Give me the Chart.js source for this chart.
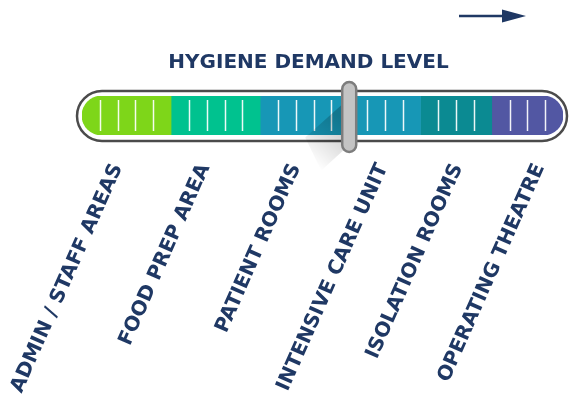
<!DOCTYPE html>
<html lang="en">
<head>
<meta charset="UTF-8">
<title>Hygiene Demand Level</title>
<script src="https://cdn.jsdelivr.net/npm/chart.js"></script>
<style>
  html, body { margin: 0; padding: 0; background: #fff; }
  canvas { display: block; }
</style>
</head>
<body>
<canvas id="gauge" width="576" height="403"></canvas>
<script>
// areas along the scale, from lowest to highest demand
const categories = ['ADMIN / STAFF AREAS', 'FOOD PREP AREA', 'PATIENT ROOMS', 'INTENSIVE CARE UNIT', 'ISOLATION ROOMS', 'OPERATING THEATRE'];
const bandUnits = [5, 5, 5, 4, 4, 4];
const bandColors = ['#7ed619', '#00c28f', '#1797b6', '#1797b6', '#0b8a92', '#5257a3'];
// where each rotated label is anchored on the scale
const labelAt = [2.0, 6.9, 12.0, 16.9, 21.1, 25.7];
const knobValue = 15;

const navy = '#1f3864';
const total = bandUnits.reduce((a, b) => a + b, 0);

const datasets = bandUnits.map((u, i) => ({
    label: categories[i],
    data: [u],
    backgroundColor: bandColors[i],
    borderWidth: 0,
    borderSkipped: false,
    borderRadius: i === 0 ? { topLeft: 20, bottomLeft: 20, topRight: 0, bottomRight: 0 }
        : i === bandUnits.length - 1 ? { topLeft: 0, bottomLeft: 0, topRight: 20, bottomRight: 20 } : 0,
    barPercentage: 1,
    categoryPercentage: 1
}));

const gaugePlugin = {
    id: 'gauge',
    beforeDatasetsDraw(chart) {
        const ctx = chart.ctx;
        const x = chart.scales.x;
        const a = chart.chartArea;
        const l = x.getPixelForValue(0) - 5, r = x.getPixelForValue(total) + 4;
        const t = a.top - 5, b = a.bottom + 6;
        ctx.save();
        ctx.beginPath();
        ctx.roundRect(l, t, r - l, b - t, (b - t) / 2);
        ctx.fillStyle = '#fff';
        ctx.fill();
        ctx.lineWidth = 2.5;
        ctx.strokeStyle = '#4b4b4b';
        ctx.stroke();
        ctx.restore();
    },
    afterDatasetsDraw(chart) {
        const ctx = chart.ctx;
        const x = chart.scales.x;
        const a = chart.chartArea;
        // white tick lines inside the bands
        const edges = [];
        bandUnits.reduce((acc, u) => { edges.push(acc + u); return acc + u; }, 0);
        ctx.save();
        ctx.strokeStyle = 'rgba(255,255,255,0.92)';
        ctx.lineWidth = 1.5;
        for (let v = 1; v < total; v++) {
            if (edges.includes(v) || v === knobValue) continue;
            const px = Math.round(x.getPixelForValue(v)) + 0.5;
            ctx.beginPath();
            ctx.moveTo(px, a.top + 4);
            ctx.lineTo(px, a.bottom - 4);
            ctx.stroke();
        }
        // knob shadow
        const cx = x.getPixelForValue(knobValue);
        const cy = (a.top + a.bottom) / 2;
        const g = ctx.createLinearGradient(cx - 6, cy + 5, cx - 40, cy + 45);
        g.addColorStop(0, 'rgba(0,0,0,0.22)');
        g.addColorStop(1, 'rgba(0,0,0,0)');
        ctx.fillStyle = g;
        ctx.beginPath();
        ctx.moveTo(cx - 6, cy - 12);
        ctx.lineTo(cx - 6, cy + 35);
        ctx.lineTo(cx - 28, cy + 55);
        ctx.lineTo(cx - 44, cy + 22);
        ctx.closePath();
        ctx.fill();
        // knob
        ctx.beginPath();
        ctx.roundRect(cx - 7, a.top - 14, 14, a.bottom - a.top + 31, 7);
        ctx.fillStyle = '#c4c4c4';
        ctx.fill();
        ctx.lineWidth = 2.5;
        ctx.strokeStyle = '#7d7d7d';
        ctx.stroke();
        ctx.restore();
    },
    afterDraw(chart) {
        const ctx = chart.ctx;
        const r = chart.chartArea.right;
        ctx.save();
        ctx.strokeStyle = navy;
        ctx.fillStyle = navy;
        ctx.lineWidth = 2.5;
        ctx.beginPath();
        ctx.moveTo(r - 104, 16);
        ctx.lineTo(r - 58, 16);
        ctx.stroke();
        ctx.beginPath();
        ctx.moveTo(r - 61, 9.5);
        ctx.lineTo(r - 37, 16);
        ctx.lineTo(r - 61, 22.5);
        ctx.closePath();
        ctx.fill();
        ctx.restore();
    }
};

new Chart(document.getElementById('gauge'), {
    type: 'bar',
    data: { labels: ['level'], datasets: datasets },
    options: {
        indexAxis: 'y',
        responsive: false,
        animation: false,
        devicePixelRatio: 1,
        layout: { padding: { left: 54, right: 13, top: 0, bottom: 0 } },
        plugins: {
            legend: { display: false },
            tooltip: { enabled: false },
            title: {
                display: true,
                text: 'HYGIENE DEMAND LEVEL',
                color: navy,
                font: { family: 'DejaVu Sans', weight: 'bold', size: 20 },
                padding: { top: 51, bottom: 21 }
            }
        },
        scales: {
            x: { type: 'linear', stacked: true, min: 0, max: total, display: false },
            y: {
                stacked: true,
                grid: { display: false, drawTicks: false },
                border: { display: false },
                ticks: { display: false },
                afterFit(s) { s.width = 28; }
            },
            xl: {
                type: 'linear',
                position: 'bottom',
                min: 0,
                max: total,
                grid: { display: false, drawTicks: false },
                border: { display: false },
                ticks: {
                    autoSkip: false,
                    minRotation: 66,
                    maxRotation: 66,
                    padding: 25,
                    color: navy,
                    font: { family: 'DejaVu Sans', weight: 'bold', size: 20 },
                    callback: (v, i) => categories[i]
                },
                afterBuildTicks(s) { s.ticks = labelAt.map(v => ({ value: v })); },
                afterFit(s) { s.height = 268; s.paddingLeft = 0; s.paddingRight = 0; }
            }
        }
    },
    plugins: [gaugePlugin]
});
</script>
</body>
</html>
